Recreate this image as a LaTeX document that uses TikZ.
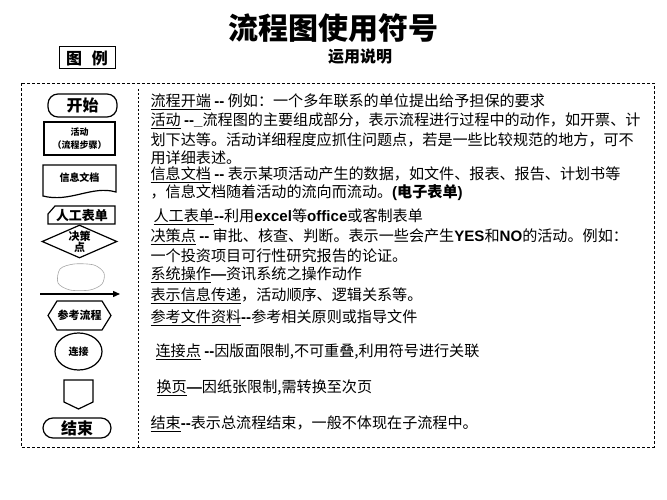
\documentclass[tikz,border=0pt]{standalone}
\usepackage{fontspec}
\setmainfont{Noto Sans CJK SC}
\newfontfamily\latinfont{Liberation Sans}
\usetikzlibrary{shapes.geometric,arrows.meta}
\newcommand{\lb}[1]{{\latinfont\bfseries #1}}
\newcommand{\dd}{\lb{-{}-}}

\begin{document}
\begin{tikzpicture}[x = 1pt, y = -1pt, line width = 1.2pt,
    terminal/.style = {draw, rounded corners = 10pt, inner sep = 0pt, font = \bfseries\fontsize{16}{18}\selectfont},
    symlabel/.style = {inner sep = 0pt, align = center},
    desc/.style = {anchor = west, inner sep = 0pt, font = \fontsize{15.1}{18}\selectfont},
    border/.style = {line width = 0.8pt, dash pattern = on 3pt off 2pt}]
\useasboundingbox (0,0) rectangle (667,500);
% title and headings
\draw (333,28) node[font = \bfseries\fontsize{30}{34}\selectfont](title){流程图使用符号}
    (87,58) node[draw, line width = 1pt, minimum width = 56pt, minimum height = 22pt, inner sep = 0pt,
        font = \bfseries\fontsize{16}{18}\selectfont](legend){图\hspace{0.6em}例}
    (360,57) node[font = \bfseries\fontsize{16}{18}\selectfont](usage){运用说明};
% frame
\draw[border] (21,83) rectangle (654,447);
\draw[border, line width = 0.6pt, dash pattern = on 2pt off 2pt] (138,89) -- (138,447);
% symbols
\draw (82.5,105.5) node[terminal, minimum width = 69pt, minimum height = 23pt](start){开始}
    (79.5,138.5) node[draw, minimum width = 71pt, minimum height = 33pt, inner sep = 0pt, align = center,
        font = \bfseries\fontsize{9}{13}\selectfont](act){活动\\（流程步骤）};
\draw (43,165) -- (116,165) -- (116,192) .. controls (92,185) and (70,203) .. (43,196) -- cycle;
\node[symlabel, font = \bfseries\fontsize{10}{12}\selectfont] (doc) at (79.5,178) {信息文档};
\draw (48,214) -- (55,206) -- (115,206) -- (115,224) -- (48,224) -- cycle;
\node[symlabel, font = \bfseries\fontsize{13}{15}\selectfont] (manual) at (82,216) {人工表单};
\draw (79.5,241.5) node[diamond, draw, aspect = 2.3, inner sep = 0pt, minimum width = 75pt, minimum height = 33pt,
    align = center, font = \bfseries\fontsize{11}{11.5}\selectfont](dec){决策\\点};
\draw[gray!70, line width = 0.6pt] plot[smooth cycle] coordinates
    {(60,269) (74,264) (94,265) (104,273) (102,284) (90,290) (70,290) (58,283)};
\coordinate (flowL) at (40,294);
\coordinate (flowR) at (120,294);
\draw[-{Triangle[length = 7pt, width = 6pt]}, line width = 1.4pt] (flowL) -- (flowR);
\draw (48,315.5) -- (57,301) -- (102,301) -- (111,315.5) -- (102,330) -- (57,330) -- cycle;
\node[symlabel, font = \bfseries\fontsize{11}{13}\selectfont] (ref) at (79.5,315.5) {参考流程};
\draw (78.5,351.5) node[ellipse, draw, minimum width = 47pt, minimum height = 37pt, inner sep = 0pt,
    font = \bfseries\fontsize{10}{12}\selectfont](conn){连接};
\draw (64,380) -- (93,380) -- (93,402) -- (78.5,409) -- (64,402) -- cycle;
\draw (77,428) node[terminal, minimum width = 68pt, minimum height = 20pt](stop){结束};
% descriptions
\draw (150,102) node[desc](d1){\underline{流程开端} \dd{} 例如：一个多年联系的单位提出给予担保的要求}
    (150,121) node[desc](d2){\underline{活动} \dd\lb{\_}流程图的主要组成部分，表示流程进行过程中的动作，如开票、计}
    (150,140) node[desc](d3){划下达等。活动详细程度应抓住问题点，若是一些比较规范的地方，可不}
    (150,158) node[desc](d4){用详细表述。}
    (150,175) node[desc](d5){\underline{信息文档} \dd{} 表示某项活动产生的数据，如文件、报表、报告、计划书等}
    (150,193) node[desc](d6){，信息文档随着活动的流向而流动。\lb{(}\textbf{电子表单}\lb{)}}
    (153,217) node[desc](d7){\underline{人工表单}\dd 利用\lb{excel}等\lb{office}或客制表单}
    (150,237) node[desc](d8){\underline{决策点} \dd{} 审批、核查、判断。表示一些会产生\lb{YES}和\lb{NO}的活动。例如：}
    (150,256) node[desc](d9){一个投资项目可行性研究报告的论证。}
    (150,275) node[desc](d10){\underline{系统操作}\lb{—}资讯系统之操作动作}
    (150,296) node[desc](d11){\underline{表示信息传递}，活动顺序、逻辑关系等。}
    (150,318) node[desc](d12){\underline{参考文件资料}\dd 参考相关原则或指导文件}
    (155,352) node[desc](d13){\underline{连接点} \dd 因版面限制,不可重叠,利用符号进行关联}
    (156,388) node[desc](d14){\underline{换页}\lb{—}因纸张限制,需转换至次页}
    (150,424) node[desc](d15){\underline{结束}\dd 表示总流程结束，一般不体现在子流程中。};
\end{tikzpicture}
\end{document}
